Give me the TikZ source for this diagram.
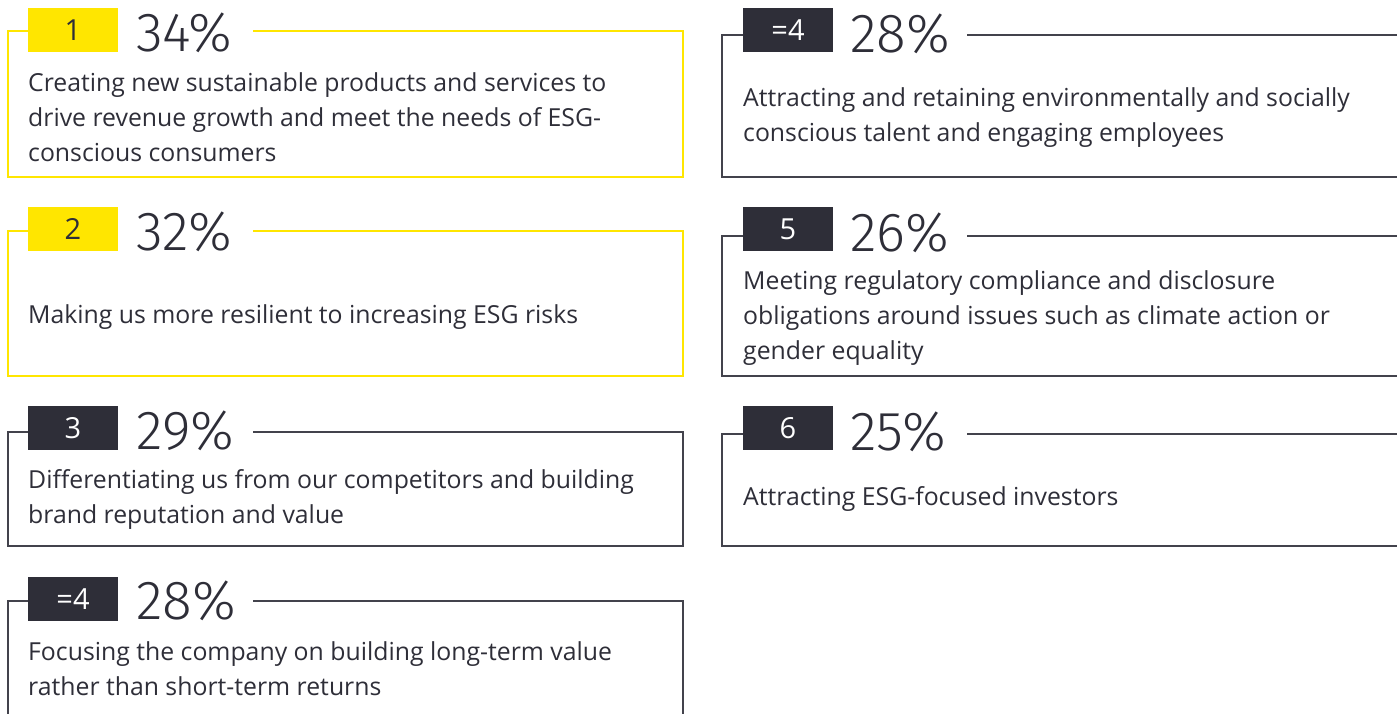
\documentclass[tikz,border=0pt]{standalone}
\usepackage{fontspec}
\setmainfont{Open Sans}
\newfontfamily\lightfont{Fira Sans Light}
\definecolor{eyyellow}{HTML}{FFE600}
\definecolor{eydark}{HTML}{2E2E38}

\begin{document}
\begin{tikzpicture}[x=1pt,y=-1pt,
    frame/.style={line width=1.3pt, draw=eydark!90},
    yframe/.style={line width=1.3pt, draw=eyyellow},
    badge/.style={minimum width=90pt, minimum height=44pt, inner sep=0pt, font=\fontsize{29}{29}\selectfont},
    ybadge/.style={badge, fill=eyyellow, text=eydark},
    dbadge/.style={badge, fill=eydark, text=white},
    pct/.style={anchor=west, inner sep=0pt, text=eydark, font=\lightfont\fontsize{55}{55}\selectfont},
    desc/.style={anchor=west, inner sep=0pt, align=left, text=eydark, font=\fontsize{24.8}{35}\selectfont}]
    \useasboundingbox (0,0) rectangle (1397,713);

    % Left column
    \node[ybadge] (b1) at (73,30) {1};
    \node[pct] (p1) at (136,33) {34\%};
    \draw[yframe] (b1.west |- 0,31) -- (8,31) -- (8,177) -- (683,177) -- (683,31) -- (253,31);
    \node[desc] (d1) at (28,117) {Creating new sustainable products and services to\\drive revenue growth and meet the needs of ESG-\\conscious consumers};

    \node[ybadge] (b2) at (73,229) {2};
    \node[pct] (p2) at (136,232) {32\%};
    \draw[yframe] (b2.west |- 0,231) -- (8,231) -- (8,376) -- (683,376) -- (683,231) -- (253,231);
    \node[desc] (d2) at (28,317) {Making us more resilient to increasing ESG risks};

    \node[dbadge] (b3) at (73,428) {3};
    \node[pct] (p3) at (136,431) {29\%};
    \draw[frame] (b3.west |- 0,432) -- (8,432) -- (8,546) -- (683,546) -- (683,432) -- (253,432);
    \node[desc] (d3) at (28,499) {Differentiating us from our competitors and building\\brand reputation and value};

    \node[dbadge] (b4) at (73,599) {=4};
    \node[pct] (p4) at (136,601) {28\%};
    \draw[frame] (b4.west |- 0,601) -- (8,601) -- (8,720);
    \draw[frame] (253,601) -- (683,601) -- (683,720);
    \node[desc] (d4) at (28,669) {Focusing the company on building long-term value\\rather than short-term returns};

    % Right column
    \node[dbadge] (b5) at (788,30) {=4};
    \node[pct] (p5) at (850,34) {28\%};
    \draw[frame] (b5.west |- 0,35) -- (722,35) -- (722,177) -- (1400,177);
    \draw[frame] (967,35) -- (1400,35);
    \node[desc] (d5) at (743,118) {Attracting and retaining environmentally and socially\\conscious talent and engaging employees};

    \node[dbadge] (b6) at (788,229) {5};
    \node[pct] (p6) at (850,233) {26\%};
    \draw[frame] (b6.west |- 0,236) -- (722,236) -- (722,376) -- (1400,376);
    \draw[frame] (967,236) -- (1400,236);
    \node[desc] (d6) at (743,318) {Meeting regulatory compliance and disclosure\\obligations around issues such as climate action or\\gender equality};

    \node[dbadge] (b7) at (788,428) {6};
    \node[pct] (p7) at (850,432) {25\%};
    \draw[frame] (b7.west |- 0,434) -- (722,434) -- (722,546) -- (1400,546);
    \draw[frame] (967,434) -- (1400,434);
    \node[desc] (d7) at (743,499) {Attracting ESG-focused investors};
\end{tikzpicture}
\end{document}
